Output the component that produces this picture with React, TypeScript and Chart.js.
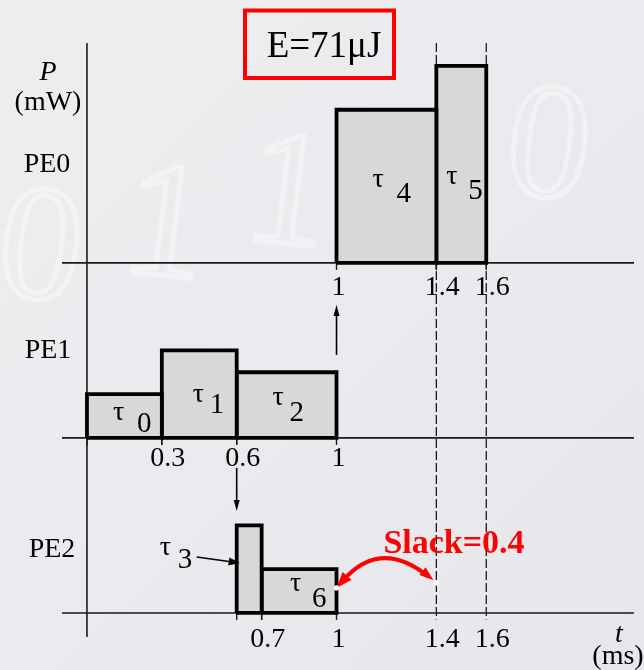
import React, { useEffect, useRef } from 'react';
import { Chart, registerables } from 'chart.js';

Chart.register(...registerables);

// Processing elements (lanes, top to bottom)
const peNames = ['PE0', 'PE1', 'PE2'];

// Task schedule: lane, start / end time (ms) and power level (relative units)
const taskIds = ['0', '1', '2', '3', '4', '5', '6'];
const taskPE = [1, 1, 1, 2, 0, 0, 2];
const taskStart = [0, 0.3, 0.6, 0.6, 1, 1.4, 0.7];
const taskEnd = [0.3, 0.6, 1, 0.7, 1.4, 1.6, 1];
const taskPower = [2, 4, 3, 4, 7, 9, 2];

// Time labels under each lane
const peTicks = [
  [1, 1.4, 1.6],
  [0.3, 0.6, 1],
  [0.7, 1, 1.4, 1.6],
];

// Dashed guide times, slack and total energy
const guideTimes = [1.4, 1.6];
const slackFrom = 1;
const slackValue = 0.4;
const energyUJ = 71;

const W = 644;
const H = 670;
const LANE_GAP = 8;
const laneBase = (pe: number) => (peNames.length - 1 - pe) * LANE_GAP;

const SERIF = '"Liberation Serif", "Times New Roman", serif';

// label placement for each task: [tau dx, tau dy, digit dx, digit dy]
// dx relative to the bar centre (τ3 relative to the bar's left edge), dy relative to the lane baseline
const labelPlace: Record<string, number[]> = {
  '0': [-11.5, -18, 12.5, -6],
  '1': [-6.5, -36, 10.5, -25],
  '2': [-14, -33, 3, -17],
  '3': [-77, -58, -59, -45],
  '4': [-14, -76, 10, -61],
  '5': [-15, -79, 7, -64],
  '6': [-9, -22, 13, -6],
};

function arrowHead(ctx: CanvasRenderingContext2D, tx: number, ty: number, ang: number, len: number, wid: number) {
  ctx.beginPath();
  ctx.moveTo(tx, ty);
  ctx.lineTo(tx - len * Math.cos(ang) + (wid / 2) * Math.sin(ang), ty - len * Math.sin(ang) - (wid / 2) * Math.cos(ang));
  ctx.lineTo(tx - len * Math.cos(ang) - (wid / 2) * Math.sin(ang), ty - len * Math.sin(ang) + (wid / 2) * Math.cos(ang));
  ctx.closePath();
  ctx.fill();
}

function arrow(ctx: CanvasRenderingContext2D, x1: number, y1: number, x2: number, y2: number, len = 10, wid = 7) {
  const ang = Math.atan2(y2 - y1, x2 - x1);
  ctx.beginPath();
  ctx.moveTo(x1, y1);
  ctx.lineTo(x2 - (len - 2) * Math.cos(ang), y2 - (len - 2) * Math.sin(ang));
  ctx.stroke();
  arrowHead(ctx, x2, y2, ang, len, wid);
}

const schedulePlugin = {
  id: 'schedule',
  beforeDraw(chart: any) {
    const ctx: CanvasRenderingContext2D = chart.ctx;
    ctx.save();
    const g = ctx.createLinearGradient(0, 0, W, H);
    g.addColorStop(0, '#eeedf0');
    g.addColorStop(1, '#e7e6ea');
    ctx.fillStyle = g;
    ctx.fillRect(0, 0, W, H);
    // faint backdrop digits
    ctx.strokeStyle = 'rgba(255,255,255,0.38)';
    ctx.lineWidth = 5;
    ctx.font = `165px ${SERIF}`;
    ctx.textAlign = 'center';
    ctx.textBaseline = 'middle';
    const marks: [string, number, number][] = [
      ['0', 40, 255],
      ['1', 165, 232],
      ['1', 287, 200],
      ['1', 410, 178],
      ['0', 548, 153],
    ];
    marks.forEach(([d, x, y]) => {
      ctx.save();
      ctx.translate(x, y);
      ctx.rotate(0.12);
      ctx.strokeText(d, 0, 0);
      ctx.restore();
    });
    ctx.restore();
  },
  beforeDatasetsDraw(chart: any) {
    const ctx: CanvasRenderingContext2D = chart.ctx;
    const xs = chart.scales.x;
    const ys = chart.scales.y;
    ctx.save();
    ctx.strokeStyle = '#1a1a1a';
    ctx.lineWidth = 1.6;
    // time axis of every lane
    peNames.forEach((_, pe) => {
      const y = ys.getPixelForValue(laneBase(pe));
      ctx.beginPath();
      ctx.moveTo(xs.getPixelForValue(xs.min), y);
      ctx.lineTo(xs.getPixelForValue(xs.max) - 2, y);
      ctx.stroke();
    });
    // power axis
    const x0 = xs.getPixelForValue(0);
    ctx.beginPath();
    ctx.moveTo(x0, ys.getPixelForValue(ys.max));
    ctx.lineTo(x0, ys.getPixelForValue(ys.min));
    ctx.stroke();
    // small ticks at task edges
    ctx.lineWidth = 1.4;
    taskIds.forEach((_, i) => {
      const y = ys.getPixelForValue(laneBase(taskPE[i]));
      [taskStart[i], taskEnd[i]].forEach((t) => {
        const x = xs.getPixelForValue(t);
        ctx.beginPath();
        ctx.moveTo(x, y);
        ctx.lineTo(x, y + 7);
        ctx.stroke();
      });
    });
    // dashed guides
    ctx.setLineDash([9, 3]);
    ctx.lineWidth = 1.3;
    guideTimes.forEach((t) => {
      const x = xs.getPixelForValue(t);
      ctx.beginPath();
      ctx.moveTo(x, ys.getPixelForValue(ys.max));
      ctx.lineTo(x, ys.getPixelForValue(-0.3));
      ctx.stroke();
    });
    ctx.restore();
  },
  afterDatasetsDraw(chart: any) {
    const ctx: CanvasRenderingContext2D = chart.ctx;
    const xs = chart.scales.x;
    const ys = chart.scales.y;
    ctx.save();
    ctx.fillStyle = '#000';
    ctx.textBaseline = 'alphabetic';

    // lane names and axis titles
    ctx.font = `28px ${SERIF}`;
    ctx.textAlign = 'center';
    const laneNameY = [172, 358, 557];
    const laneNameX = [47, 48, 52];
    peNames.forEach((n, pe) => ctx.fillText(n, laneNameX[pe], laneNameY[pe]));
    ctx.fillText('(mW)', 48, 110);
    ctx.fillText('(ms)', 618, 664);
    ctx.font = `italic 28px ${SERIF}`;
    ctx.fillText('P', 48, 80);
    ctx.fillText('t', 619, 642);

    // time labels
    ctx.font = `28px ${SERIF}`;
    const tickDy = [32, 28, 34];
    peTicks.forEach((ticks, pe) => {
      const y = ys.getPixelForValue(laneBase(pe)) + tickDy[pe];
      ticks.forEach((t) => {
        const s = String(t);
        const x = xs.getPixelForValue(t) + (s.length > 1 ? 6 : 2);
        ctx.fillText(s, x, y);
      });
    });

    // task names
    ctx.textAlign = 'left';
    taskIds.forEach((id, i) => {
      const base = ys.getPixelForValue(laneBase(taskPE[i]));
      const xa = xs.getPixelForValue(taskStart[i]);
      const xb = xs.getPixelForValue(taskEnd[i]);
      const ref = id === '3' ? xa : (xa + xb) / 2;
      const p = labelPlace[id];
      ctx.font = `28px ${SERIF}`;
      ctx.fillText('τ', ref + p[0], base + p[1]);
      ctx.font = `29px ${SERIF}`;
      ctx.fillText(id, ref + p[2], base + p[3]);
    });

    // precedence arrows
    ctx.strokeStyle = '#000';
    ctx.lineWidth = 1.6;
    const b0 = ys.getPixelForValue(laneBase(0));
    const b1 = ys.getPixelForValue(laneBase(1));
    const b2 = ys.getPixelForValue(laneBase(2));
    const xt1 = xs.getPixelForValue(1);
    arrow(ctx, xt1, b1 - 83, xt1, b0 + 42, 11, 6);
    const xt06 = xs.getPixelForValue(0.6);
    arrow(ctx, xt06, b1 + 30, xt06, b2 - 102, 11, 6);
    arrow(ctx, xt06 - 40, b2 - 56, xt06 + 3, b2 - 50, 11, 8);

    // slack arrow
    const sx1 = xs.getPixelForValue(slackFrom);
    const sx2 = xs.getPixelForValue(slackFrom + slackValue);
    const sy1 = b2 - 25;
    const sy2 = b2 - 30;
    const cx = (sx1 + sx2) / 2 - 6;
    const cy = b2 - 75;
    ctx.strokeStyle = '#ff0000';
    ctx.fillStyle = '#ff0000';
    ctx.lineWidth = 4;
    const a1 = Math.atan2(sy1 - cy, sx1 - cx);
    const a2 = Math.atan2(sy2 - cy, sx2 - cx);
    ctx.beginPath();
    ctx.moveTo(sx1 + 10 * Math.cos(a1 + Math.PI), sy1 + 10 * Math.sin(a1 + Math.PI));
    ctx.quadraticCurveTo(cx, cy, sx2 - 10 * Math.cos(a2), sy2 - 10 * Math.sin(a2));
    ctx.stroke();
    arrowHead(ctx, sx1, sy1, a1, 16, 12);
    arrowHead(ctx, sx2 - 3, sy2 - 3, a2, 14, 10);
    ctx.fillStyle = '#ffffff';
    [[sx1, sy1], [sx2, sy2]].forEach(([x, y]) => {
      ctx.beginPath();
      ctx.arc(x, y, 2.6, 0, Math.PI * 2);
      ctx.fill();
    });
    ctx.fillStyle = '#ff0000';
    ctx.font = `bold 34px ${SERIF}`;
    ctx.textAlign = 'center';
    ctx.fillText(`Slack=${slackValue}`, 454, b2 - 60);

    // energy box
    ctx.strokeStyle = '#ff0000';
    ctx.lineWidth = 4;
    ctx.strokeRect(245, 10.5, 149, 67.5);
    ctx.fillStyle = '#000';
    ctx.font = `37px ${SERIF}`;
    ctx.fillText(`E=${energyUJ}μJ`, 324, 57);
    ctx.restore();
  },
};

export default function App() {
  const canvasRef = useRef<HTMLCanvasElement | null>(null);

  useEffect(() => {
    if (!canvasRef.current) return;
    const datasets = taskIds.map((id, i) => {
      const b = laneBase(taskPE[i]);
      const top = b + taskPower[i];
      return {
        label: `τ${id}`,
        data: [
          { x: taskStart[i], y: b },
          { x: taskStart[i], y: top },
          { x: taskEnd[i], y: top },
          { x: taskEnd[i], y: b },
          { x: taskStart[i], y: b },
        ],
        borderColor: '#000000',
        borderWidth: 3.8,
        borderJoinStyle: 'miter' as const,
        backgroundColor: '#d8d8d8',
        fill: 'shape' as const,
        pointRadius: 0,
        tension: 0,
      };
    });
    const chart = new Chart(canvasRef.current, {
      type: 'line',
      data: { datasets },
      options: {
        animation: false,
        responsive: false,
        devicePixelRatio: 1,
        layout: { padding: { left: 62, right: 8, top: 43, bottom: 33 } },
        scales: {
          x: { type: 'linear', min: -0.1, max: 2.2, display: false },
          y: { type: 'linear', min: -1.1, max: 26.05, display: false },
        },
        plugins: {
          legend: { display: false },
          tooltip: { enabled: false },
        },
      },
      plugins: [schedulePlugin],
    });
    return () => chart.destroy();
  }, []);

  return (
    <div style={{ position: 'fixed', left: 0, top: 0, width: W, height: H }}>
      <canvas ref={canvasRef} width={W} height={H} style={{ display: 'block' }} />
    </div>
  );
}
